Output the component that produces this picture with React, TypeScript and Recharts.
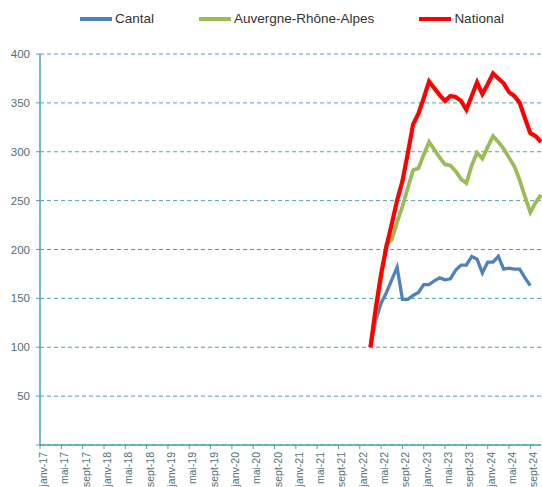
import { CartesianGrid, Line, LineChart, XAxis, YAxis } from "recharts";

const MONTHS = ["janv", "févr", "mars", "avr", "mai", "juin", "juil", "août", "sept", "oct", "nov", "déc"];
const YEARS = [17, 18, 19, 20, 21, 22, 23, 24];
const LAST_MONTH_2024 = 11; // nov-24
const SERIES_START = 62; // mars-22

const cantal = [
  100, 128, 145, 156, 169, 182, 149, 149, 153, 156, 164, 164, 168, 171, 169, 170,
  179, 184, 184, 193, 190, 176, 187, 187, 193, 180, 181, 180, 180, 171, 163,
];
const auvergne = [
  100, 135, 170, 205, 210, 228, 244, 263, 281, 283, 297, 310, 302, 294, 287, 286,
  280, 272, 268, 286, 299, 293, 305, 316, 310, 303, 294, 285, 271, 254, 238, 248, 256,
];
const national = [
  100, 140, 175, 203, 226, 250, 270, 298, 328, 339, 355, 372, 365, 358, 352, 357,
  356, 352, 343, 357, 371, 359, 369, 380, 375, 370, 361, 357, 350, 334, 319, 316, 310,
];

const Y_TICKS = [0, 50, 100, 150, 200, 250, 300, 350, 400];

const SERIES = [
  { key: "cantal", name: "Cantal", color: "#4F81BD", width: 3.3 },
  { key: "auvergne", name: "Auvergne-Rhône-Alpes", color: "#9BBB59", width: 3.8 },
  { key: "national", name: "National", color: "#FF0000", width: 4.2 },
];

const categories: string[] = [];
YEARS.forEach((y) => {
  MONTHS.forEach((m, i) => {
    if (y === 24 && i > LAST_MONTH_2024 - 1) return;
    categories.push(`${m}-${y}`);
  });
});

const data = categories.map((month, i) => {
  const k = i - SERIES_START;
  return {
    month,
    cantal: k >= 0 && k < cantal.length ? cantal[k] : null,
    auvergne: k >= 0 && k < auvergne.length ? auvergne[k] : null,
    national: k >= 0 && k < national.length ? national[k] : null,
  };
});

const AXIS = "#4AA3B3";
const LABEL = "#4f6f76";
const FONT = "'Liberation Sans', Arial, sans-serif";

function MonthTick({ x, y, payload }: any) {
  return (
    <text
      x={x}
      y={y}
      transform={`rotate(-90 ${x} ${y})`}
      textAnchor="end"
      fontSize={10.5}
      fill={LABEL}
      fontFamily={FONT}
    >
      <tspan dy={7}>{payload.value}</tspan>
    </text>
  );
}

function LegendRow() {
  return (
    <div
      style={{
        position: "absolute",
        top: 11,
        left: 80,
        display: "flex",
        gap: 45,
        fontFamily: FONT,
        fontSize: 13.5,
        color: "#333",
      }}
    >
      {SERIES.map((s) => (
        <div key={s.key} style={{ display: "flex", alignItems: "center" }}>
          <span style={{ display: "inline-block", width: 32, height: 4, background: s.color, marginRight: 3 }} />
          <span>{s.name}</span>
        </div>
      ))}
    </div>
  );
}

export default function App() {
  return (
    <div style={{ position: "absolute", left: 0, top: 0, width: 542, height: 487, background: "#fff" }}>
      <LineChart width={542} height={487} data={data} margin={{ top: 54, right: 1, bottom: 0, left: 0 }}>
        <CartesianGrid vertical={false} stroke={AXIS} strokeDasharray="4 3" />
        <XAxis
          dataKey="month"
          interval={3}
          height={42}
          tickSize={4}
          tickMargin={3}
          axisLine={{ stroke: AXIS, strokeWidth: 1.5 }}
          tickLine={{ stroke: AXIS }}
          tick={<MonthTick />}
        />
        <YAxis
          width={40}
          domain={[0, 400]}
          ticks={Y_TICKS}
          tickSize={4}
          tickMargin={6}
          axisLine={{ stroke: AXIS, strokeWidth: 1.5 }}
          tickLine={{ stroke: AXIS }}
          tickFormatter={(v: number) => (v === 0 ? "" : String(v))}
          tick={{ fill: LABEL, fontSize: 11.5, fontFamily: FONT }}
        />
        {SERIES.map((s) => (
          <Line
            key={s.key}
            type="linear"
            dataKey={s.key}
            name={s.name}
            stroke={s.color}
            strokeWidth={s.width}
            dot={false}
            activeDot={false}
            connectNulls={false}
            isAnimationActive={false}
          />
        ))}
      </LineChart>
      <LegendRow />
    </div>
  );
}
